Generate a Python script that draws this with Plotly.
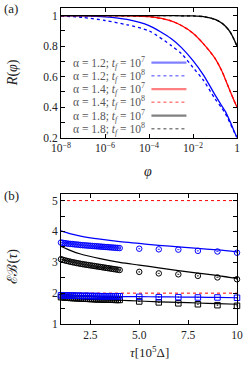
import plotly.graph_objects as go

# ---------------- Panel (a) data ----------------
phi = [1e-8, 1e-7, 1e-6, 1e-5, 1e-4, 1e-3, 3e-3, 1e-2, 3e-2, 0.1, 0.2, 0.3, 0.5, 0.7, 1.0]
R_a12_t7 = [1.0, 0.998, 0.992, 0.975, 0.935, 0.85, 0.79, 0.705, 0.61, 0.48, 0.41, 0.37, 0.30, 0.25, 0.2]
R_a12_t8 = [0.998, 0.988, 0.968, 0.94, 0.90, 0.805, 0.75, 0.66, 0.575, 0.455, 0.395, 0.355, 0.29, 0.245, 0.2]
R_a14_t7 = [1.0, 1.0, 1.0, 0.999, 0.993, 0.966, 0.935, 0.885, 0.815, 0.72, 0.64, 0.58, 0.50, 0.45, 0.4]
R_a14_t8 = [1.0, 1.0, 1.0, 0.999, 0.993, 0.966, 0.935, 0.885, 0.815, 0.72, 0.64, 0.58, 0.50, 0.45, 0.4]
R_a18_t7 = [1.0, 1.0, 1.0, 1.0, 1.0, 1.0, 0.999, 0.998, 0.993, 0.975, 0.952, 0.93, 0.89, 0.85, 0.8]
R_a18_t8 = [1.0, 1.0, 1.0, 1.0, 1.0, 1.0, 0.999, 0.998, 0.993, 0.975, 0.952, 0.93, 0.89, 0.85, 0.8]

legend_labels = [
    "α = 1.2; <i>t<sub>f</sub></i> = 10<sup>7</sup>",
    "α = 1.2; <i>t<sub>f</sub></i> = 10<sup>8</sup>",
    "α = 1.4; <i>t<sub>f</sub></i> = 10<sup>7</sup>",
    "α = 1.4; <i>t<sub>f</sub></i> = 10<sup>8</sup>",
    "α = 1.8; <i>t<sub>f</sub></i> = 10<sup>7</sup>",
    "α = 1.8; <i>t<sub>f</sub></i> = 10<sup>8</sup>",
]
phi_tickvals = [1e-8, 1e-6, 1e-4, 1e-2, 1]
phi_ticktext = ["10<sup>−8</sup>", "10<sup>−6</sup>", "10<sup>−4</sup>", "10<sup>−2</sup>", "1"]

# ---------------- Panel (b) data ----------------
tau_dense = [1.0, 1.1, 1.2, 1.3, 1.4, 1.5, 1.6, 1.7, 1.8, 1.9, 2.0, 2.1, 2.2, 2.3, 2.4, 2.5,
             2.6, 2.7, 2.8, 2.9, 3.0, 3.1, 3.2, 3.3, 3.4, 3.5, 3.6, 3.7, 3.8, 3.9, 4.0,
             5.0, 6.0, 7.0, 8.0, 9.0, 10.0]
EB_circ_blue = [3.64, 3.63, 3.62, 3.61, 3.60, 3.595, 3.59, 3.58, 3.575, 3.57, 3.56, 3.555, 3.55,
                3.545, 3.54, 3.535, 3.53, 3.525, 3.52, 3.515, 3.51, 3.505, 3.50, 3.495, 3.49,
                3.485, 3.48, 3.475, 3.47, 3.465, 3.46,
                3.44, 3.42, 3.41, 3.37, 3.35, 3.31]
EB_circ_black = [3.10, 3.08, 3.06, 3.045, 3.03, 3.015, 3.00, 2.99, 2.975, 2.965, 2.95, 2.94, 2.93,
                 2.92, 2.91, 2.90, 2.89, 2.88, 2.87, 2.86, 2.85, 2.84, 2.83, 2.82, 2.81, 2.80,
                 2.79, 2.78, 2.77, 2.76, 2.75,
                 2.69, 2.64, 2.61, 2.56, 2.51, 2.45]
EB_sq_blue = [1.93, 1.93, 1.925, 1.925, 1.92, 1.92, 1.92, 1.915, 1.915, 1.915, 1.91, 1.91, 1.91,
              1.91, 1.91, 1.905, 1.905, 1.905, 1.905, 1.905, 1.90, 1.90, 1.90, 1.90, 1.90, 1.90,
              1.90, 1.90, 1.90, 1.90, 1.90,
              1.88, 1.87, 1.87, 1.86, 1.86, 1.85]
EB_sq_black = [1.87, 1.865, 1.86, 1.855, 1.85, 1.845, 1.84, 1.84, 1.835, 1.83, 1.83, 1.825, 1.82,
               1.82, 1.815, 1.81, 1.81, 1.805, 1.80, 1.80, 1.80, 1.795, 1.795, 1.79, 1.79, 1.79,
               1.785, 1.785, 1.78, 1.78, 1.78,
               1.73, 1.70, 1.67, 1.64, 1.61, 1.59]

tau_line = [1.0, 1.5, 2.0, 3.0, 4.0, 5.0, 6.0, 7.0, 8.0, 9.0, 10.0]
EB_th_blue_hi = [4.02, 3.92, 3.85, 3.75, 3.67, 3.61, 3.55, 3.50, 3.45, 3.40, 3.34]
EB_th_black_hi = [3.52, 3.38, 3.27, 3.12, 3.00, 2.91, 2.82, 2.73, 2.65, 2.57, 2.48]
EB_th_blue_lo = [1.91, 1.905, 1.90, 1.895, 1.89, 1.885, 1.88, 1.875, 1.87, 1.86, 1.85]
EB_th_black_lo = [1.84, 1.825, 1.81, 1.79, 1.77, 1.745, 1.72, 1.70, 1.68, 1.66, 1.64]
tau_flat = [1.0, 10.0]
EB_flat_top = [5.0, 5.0]
EB_flat_two = [2.0, 2.0]

tau_tickvals = [2.5, 5.0, 7.5, 10.0]
tau_ticktext = ["2.5", "5.0", "7.5", "10"]

# ---------------- layout geometry (pixels) ----------------
W, H = 250, 365
L, Rm, T, B = 61, 8, 7, 41
pw, ph = W - L - Rm, H - T - B


def px(x):
    return (x - L) / pw


def py(y):
    return (H - B - y) / ph


FONT = "Liberation Serif"
BLUE, RED, BLACK = "#0000ff", "#ff0000", "#000000"

fig = go.Figure()

# panel (a) curves
series_a = [
    (R_a12_t7, BLUE, "solid"), (R_a12_t8, BLUE, "dot"),
    (R_a14_t8, RED, "dot"), (R_a14_t7, RED, "solid"),
    (R_a18_t8, BLACK, "dot"), (R_a18_t7, BLACK, "solid"),
]
for vals, col, dash in series_a:
    fig.add_trace(go.Scatter(x=phi, y=vals, mode="lines",
                             line=dict(color=col, width=1.3, dash=dash, shape="spline", smoothing=0.7),
                             xaxis="x", yaxis="y", showlegend=False))

# panel (b) lines
for xs, ys, col, dash, w in [
    (tau_flat, EB_flat_top, RED, "dot", 1.0),
    (tau_flat, EB_flat_two, RED, "dot", 1.0),
    (tau_line, EB_th_blue_hi, BLUE, "solid", 1.2),
    (tau_line, EB_th_black_hi, BLACK, "solid", 1.2),
    (tau_line, EB_th_blue_lo, BLUE, "solid", 1.2),
    (tau_line, EB_th_black_lo, BLACK, "solid", 1.2),
]:
    fig.add_trace(go.Scatter(x=xs, y=ys, mode="lines",
                             line=dict(color=col, width=w, dash=dash, shape="spline"),
                             xaxis="x2", yaxis="y2", showlegend=False))

# panel (b) markers
for ys, col, sym in [
    (EB_sq_black, BLACK, "square-open-dot"),
    (EB_circ_black, BLACK, "circle-open-dot"),
    (EB_sq_blue, BLUE, "square-open-dot"),
    (EB_circ_blue, BLUE, "circle-open-dot"),
]:
    fig.add_trace(go.Scatter(x=tau_dense, y=ys, mode="markers",
                             marker=dict(symbol=sym, size=5.5, color=col, line=dict(color=col, width=1)),
                             xaxis="x2", yaxis="y2", showlegend=False, cliponaxis=False))

axis_common = dict(showline=True, linecolor="black", linewidth=1, mirror="ticks",
                   ticks="inside", ticklen=4, tickcolor="black", showgrid=False, zeroline=False,
                   ticklabeloverflow="allow",
                   tickfont=dict(family=FONT, size=11.5, color="#222"))

fig.update_layout(
    width=W, height=H,
    margin=dict(l=L, r=Rm, t=T, b=B),
    paper_bgcolor="white", plot_bgcolor="white",
    showlegend=False,
    xaxis=dict(type="log", range=[-8, 0], domain=[0, 1], anchor="y",
               tickvals=phi_tickvals, ticktext=phi_ticktext, **axis_common),
    yaxis=dict(range=[0.2, 1.05], domain=[py(137), 1], anchor="x",
               tick0=0.2, dtick=0.2,
               minor=dict(dtick=0.1, ticks="inside", ticklen=4, tickcolor="black"),
               **axis_common),
    xaxis2=dict(range=[1, 10], domain=[0, 1], anchor="y2",
                tickvals=tau_tickvals, ticktext=tau_ticktext, **axis_common),
    yaxis2=dict(range=[1, 5.2], domain=[0, py(194)], anchor="x2",
                tick0=1, dtick=1,
                minor=dict(dtick=0.5, ticks="inside", ticklen=4, tickcolor="black"),
                **axis_common),
)

# manual legend (text left, key right) inside panel (a)
row_y = [61.7, 75.0, 88.3, 101.6, 114.9, 128.2]
legend_cols = ["#8080ff", "#8080ff", "#ff8080", "#ff8080", "#808080", "#808080"]
legend_dash = ["solid", "dot", "solid", "dot", "solid", "dot"]
for yy, lab, col, dash in zip(row_y, legend_labels, legend_cols, legend_dash):
    fig.add_annotation(x=px(149), y=py(yy), xref="paper", yref="paper", text=lab,
                       showarrow=False, xanchor="right", yanchor="middle",
                       font=dict(family=FONT, size=11.5, color="#555"))
    fig.add_shape(type="line", xref="paper", yref="paper", x0=px(154), x1=px(190),
                  y0=py(yy), y1=py(yy),
                  line=dict(color=col, width=2.2 if dash == "solid" else 1.6, dash=dash))

# axis titles and panel labels
titles = [
    ("<i>R</i>(<i>φ</i>)", 11, 72, -90, 14),
    ("<i>φ</i>", 150, 171, 0, 14),
    ("ℰℬ(<i>τ</i>)", 12, 266, -90, 14),
    ("<i>τ</i>[10<sup>5</sup>Δ]", 152, 352, 0, 13),
    ("(a)", 10, 8, 0, 13),
    ("(b)", 10, 195, 0, 13),
]
for txt, x, y, ang, sz in titles:
    fig.add_annotation(x=px(x), y=py(y), xref="paper", yref="paper", text=txt,
                       showarrow=False, xanchor="center", yanchor="middle", textangle=ang,
                       font=dict(family=FONT, size=sz, color="#222"))

fig.write_html("out.html", config={"displayModeBar": False},
               post_script="document.body.style.margin='0';")
